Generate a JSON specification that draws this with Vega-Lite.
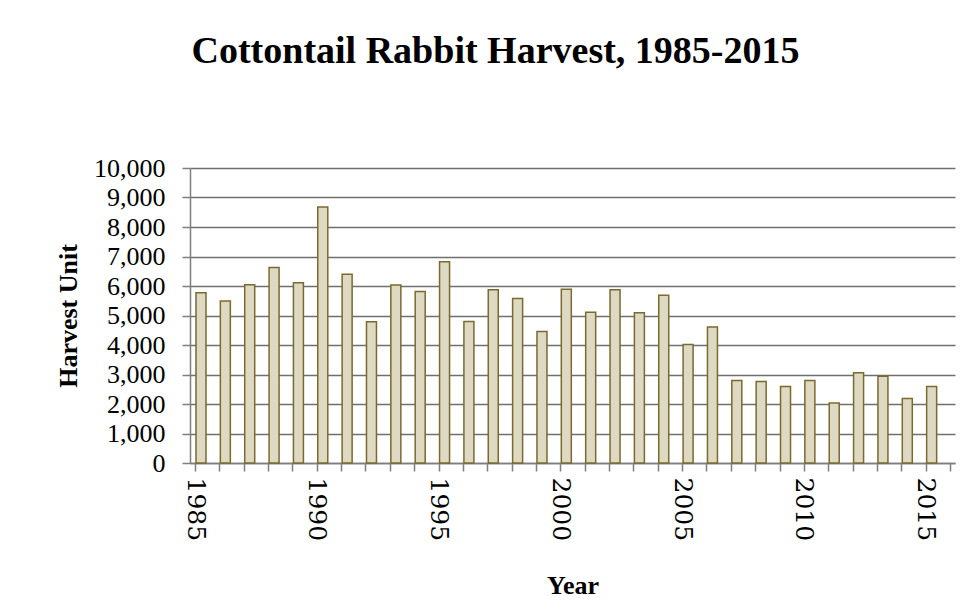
{
  "$schema": "https://vega.github.io/schema/vega-lite/v6.json",
  "width": 765,
  "height": 295,
  "autosize": {"type": "none"},
  "padding": {"left": 190, "top": 168, "right": 21, "bottom": 150},
  "background": "white",
  "title": {
    "text": "Cottontail Rabbit Harvest, 1985-2015",
    "font": "Liberation Serif",
    "fontSize": 38,
    "fontWeight": "bold",
    "color": "black",
    "anchor": "middle",
    "dx": -77,
    "offset": 84
  },
  "data": {
    "values": [
      {"year": 1985, "harvest": 5770},
      {"year": 1986, "harvest": 5490},
      {"year": 1987, "harvest": 6040},
      {"year": 1988, "harvest": 6630},
      {"year": 1989, "harvest": 6110},
      {"year": 1990, "harvest": 8680},
      {"year": 1991, "harvest": 6400},
      {"year": 1992, "harvest": 4790},
      {"year": 1993, "harvest": 6030},
      {"year": 1994, "harvest": 5810},
      {"year": 1995, "harvest": 6820},
      {"year": 1996, "harvest": 4800},
      {"year": 1997, "harvest": 5870},
      {"year": 1998, "harvest": 5580},
      {"year": 1999, "harvest": 4460},
      {"year": 2000, "harvest": 5890},
      {"year": 2001, "harvest": 5110},
      {"year": 2002, "harvest": 5870},
      {"year": 2003, "harvest": 5090},
      {"year": 2004, "harvest": 5690},
      {"year": 2005, "harvest": 4020},
      {"year": 2006, "harvest": 4610},
      {"year": 2007, "harvest": 2800},
      {"year": 2008, "harvest": 2760},
      {"year": 2009, "harvest": 2590},
      {"year": 2010, "harvest": 2800},
      {"year": 2011, "harvest": 2030},
      {"year": 2012, "harvest": 3060},
      {"year": 2013, "harvest": 2940},
      {"year": 2014, "harvest": 2190},
      {"year": 2015, "harvest": 2590}
    ]
  },
  "mark": {
    "type": "bar",
    "width": 10,
    "xOffset": 6,
    "fill": "#ddd9c3",
    "stroke": "#7a6a2e",
    "strokeWidth": 1.5
  },
  "encoding": {
    "x": {
      "field": "year",
      "type": "quantitative",
      "scale": {"domain": [1985, 2016], "nice": false, "zero": false},
      "axis": {
        "title": "Year",
        "values": [1985,1986,1987,1988,1989,1990,1991,1992,1993,1994,1995,1996,1997,1998,1999,2000,2001,2002,2003,2004,2005,2006,2007,2008,2009,2010,2011,2012,2013,2014,2015,2016],
        "labelExpr": "datum.value % 5 === 0 ? datum.value : ''",
        "labelAngle": 90,
        "labelAlign": "left",
        "labelBaseline": "middle",
        "labelFont": "DejaVu Serif",
        "labelFontSize": 25,
        "labelColor": "black",
        "labelPadding": 6,
        "labelOverlap": false,
        "labelFlush": false,
        "grid": false,
        "domainColor": "#7f7f7f",
        "domainWidth": 1.5,
        "tickColor": "#7f7f7f",
        "tickWidth": 1.5,
        "tickSize": 8,
        "titleFont": "Liberation Serif",
        "titleFontSize": 26,
        "titleFontWeight": "bold",
        "titleColor": "black",
        "titlePadding": 32
      }
    },
    "y": {
      "field": "harvest",
      "type": "quantitative",
      "scale": {"domain": [0, 10000], "nice": false},
      "axis": {
        "title": "Harvest Unit",
        "values": [0,1000,2000,3000,4000,5000,6000,7000,8000,9000,10000],
        "format": ",d",
        "labelFont": "Liberation Serif",
        "labelFontSize": 26,
        "labelColor": "black",
        "labelPadding": 17,
        "grid": true,
        "gridColor": "#6f6f6f",
        "gridWidth": 1.4,
        "domainColor": "#7f7f7f",
        "domainWidth": 1.5,
        "tickColor": "#7f7f7f",
        "tickWidth": 1.5,
        "tickSize": 8,
        "titleFont": "Liberation Serif",
        "titleFontSize": 26,
        "titleFontWeight": "bold",
        "titleColor": "black",
        "titlePadding": 12
      }
    }
  },
  "config": {"view": {"stroke": null}}
}
